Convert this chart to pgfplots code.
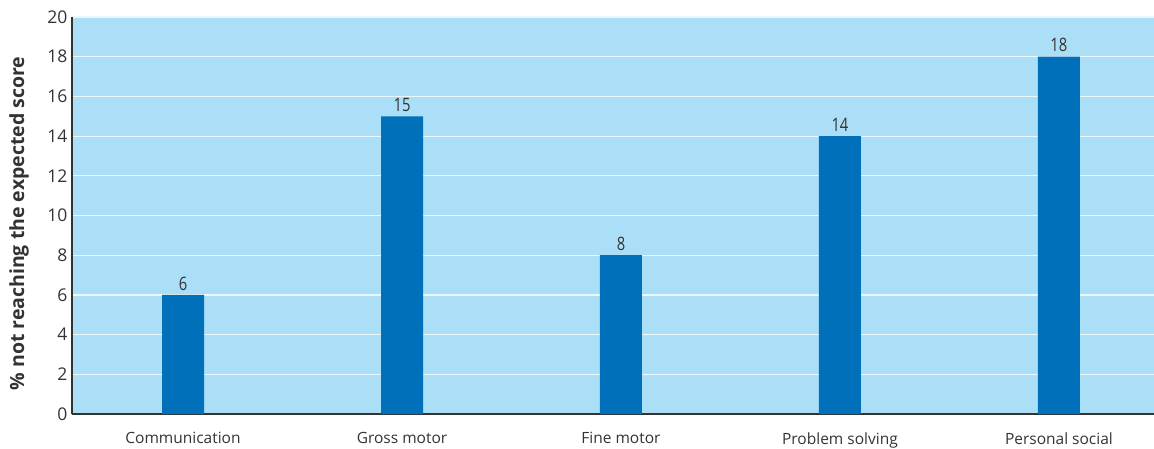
\documentclass[border=0pt]{standalone}
\usepackage{pgfplots}
\pgfplotsset{compat=1.18}
\usepackage{fontspec}
\setmainfont{Open Sans}
\definecolor{bg}{HTML}{ABDFF8}
\definecolor{barc}{HTML}{0070BA}
\definecolor{txt}{HTML}{333333}
\begin{document}
\begin{tikzpicture}[x=1pt,y=1pt]
\begin{axis}[
  at={(0,0)}, anchor=south west,
  scale only axis, width=1082pt, height=397pt,
  xmin=-0.507, xmax=4.434, ymin=0, ymax=20,
  ytick={0,2,...,20},
  xtick={0,1,2,3,4},
  xticklabels={Communication,Gross motor,Fine motor,Problem solving,Personal social},
  axis x line*=bottom, axis y line*=left,
  axis line style={-, txt, line width=2pt},
  axis background/.style={fill=bg},
  ymajorgrids, grid style={white!75!bg, line width=1.2pt},
  major tick length=0pt,
  /pgf/number format/assume math mode=true,
  yticklabel style={font=\fontsize{17.5}{20}\selectfont, text=txt, xshift=-1pt},
  xticklabel style={font=\fontsize{15.5}{18}\selectfont, text=txt, yshift=-15pt},
  ylabel={\% not reaching the expected score},
  ylabel style={at={(axis description cs:0,0.5)}, anchor=center, yshift=53pt, xshift=-8pt, font=\bfseries\fontsize{19.5}{22}\selectfont, text=txt},
  ybar, bar width=42pt,
  nodes near coords={\scalebox{0.8}[1]{\pgfmathprintnumber{\pgfplotspointmeta}}},
  every node near coord/.append style={font=\fontsize{18.5}{20}\selectfont, text=txt, yshift=1pt},
]
\addplot[fill=barc, draw=none] coordinates {(0,6) (1,15) (2,8) (3,14) (4,18)};
\end{axis}
\pgfresetboundingbox
\path[use as bounding box] (-72,-34) rectangle (1082,414);
\end{tikzpicture}
\end{document}
